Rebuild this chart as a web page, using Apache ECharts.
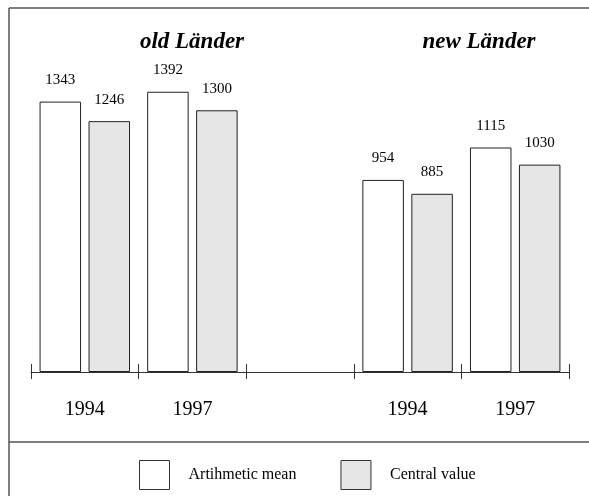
<!DOCTYPE html>
<html>
<head>
<meta charset="utf-8">
<script src="https://cdn.jsdelivr.net/npm/echarts@6/dist/echarts.min.js"></script>
<style>
  html, body { margin: 0; padding: 0; background: #fff; }
  #main { width: 589px; height: 496px; }
</style>
</head>
<body>
<div id="main"></div>
<script>
var categories = ['1994', '1997', '', '1994', '1997'];
var meanValues = [1343, 1392, '-', 954, 1115];
var centralValues = [1246, 1300, '-', 885, 1030];
var groupTitles = ['old Länder', 'new Länder'];
var seriesNames = ['Artihmetic mean', 'Central value'];

var serif = '"Liberation Serif", "DejaVu Serif", serif';
var chart = echarts.init(document.getElementById('main'), null, { renderer: 'canvas' });

var barLabel = {
  show: true,
  position: 'top',
  distance: 14,
  fontFamily: serif,
  fontSize: 15,
  color: '#000'
};

var option = {
  backgroundColor: '#fff',
  animation: false,
  grid: { left: 31, right: 20, top: 70, bottom: 124 },
  legend: {
    left: 139,
    top: 460,
    padding: 0,
    itemWidth: 30,
    itemHeight: 29,
    itemGap: 44,
    selectedMode: false,
    textStyle: { fontFamily: serif, fontSize: 16, color: '#000', padding: [0, 0, 0, 14] },
    data: [
      { name: seriesNames[0], icon: 'rect', itemStyle: { color: '#fff', borderColor: '#333', borderWidth: 1 } },
      { name: seriesNames[1], icon: 'rect', itemStyle: { color: '#e6e6e6', borderColor: '#333', borderWidth: 1 } }
    ]
  },
  xAxis: [{
    type: 'category',
    data: categories,
    axisLine: { lineStyle: { color: '#333', width: 1 } },
    axisTick: { show: true, length: 7, lineStyle: { color: '#333' } },
    axisLabel: { fontFamily: serif, fontSize: 20, color: '#000', margin: 28 }
  }, {
    type: 'category',
    data: categories,
    position: 'bottom',
    axisLine: { show: false },
    axisTick: { show: true, inside: true, length: 8, lineStyle: { color: '#333' } },
    axisLabel: { show: false }
  }],
  yAxis: {
    type: 'value',
    min: 0,
    max: 1500,
    show: false,
    splitLine: { show: false }
  },
  series: [{
    name: seriesNames[0],
    type: 'bar',
    data: meanValues,
    barWidth: 41.5,
    barGap: '18%',
    itemStyle: { color: '#fff', borderColor: '#222', borderWidth: 1 },
    label: barLabel
  }, {
    name: seriesNames[1],
    type: 'bar',
    data: centralValues,
    barWidth: 41.5,
    itemStyle: { color: '#e6e6e6', borderColor: '#222', borderWidth: 1 },
    label: barLabel
  }],
  graphic: [
    // outer frame and legend separator
    { type: 'line', shape: { x1: 9, y1: 8, x2: 589, y2: 8 }, style: { stroke: '#555', lineWidth: 1.5 } },
    { type: 'line', shape: { x1: 9, y1: 8, x2: 9, y2: 496 }, style: { stroke: '#555', lineWidth: 1.5 } },
    { type: 'line', shape: { x1: 9, y1: 442, x2: 589, y2: 442 }, style: { stroke: '#555', lineWidth: 1.5 } },
    {
      type: 'text', x: 192, y: 42,
      style: { text: groupTitles[0], font: 'italic bold 23px ' + serif, fill: '#000', textAlign: 'center', textVerticalAlign: 'middle' }
    },
    {
      type: 'text', x: 479, y: 42,
      style: { text: groupTitles[1], font: 'italic bold 23px ' + serif, fill: '#000', textAlign: 'center', textVerticalAlign: 'middle' }
    }
  ]
};

chart.setOption(option);
</script>
</body>
</html>
